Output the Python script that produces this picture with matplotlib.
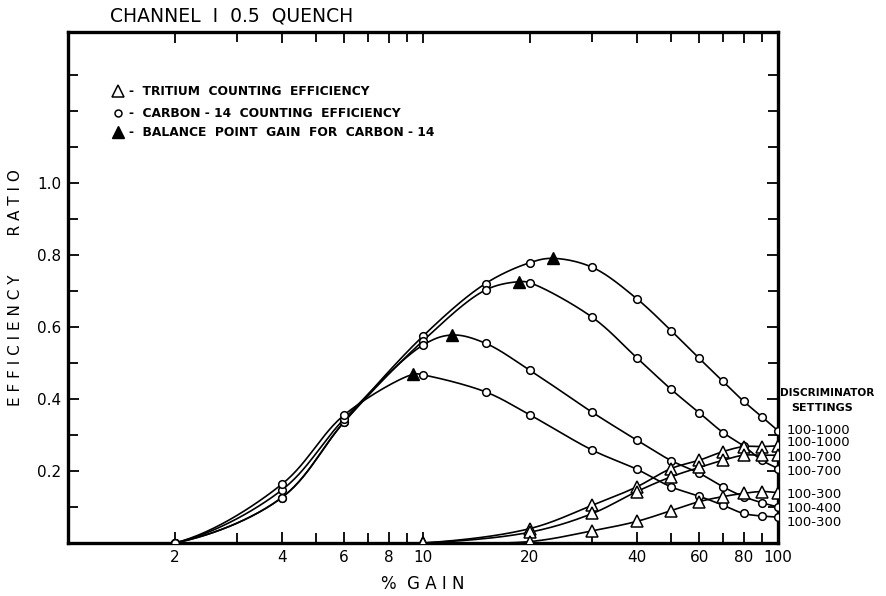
import numpy as np
import matplotlib
matplotlib.use("Agg")
import matplotlib.pyplot as plt
from matplotlib.ticker import FixedLocator, NullFormatter, FixedFormatter
import matplotlib.transforms as mtransforms

# carbon-14 counting efficiency, open circles
gain_c = [2, 4, 6, 10, 15, 20, 30, 40, 50, 60, 70, 80, 90, 100]
c14_1000 = [0, 0.126, 0.337, 0.575, 0.721, 0.779, 0.766, 0.679, 0.590, 0.513, 0.449, 0.394, 0.351, 0.312]
c14_700 = [0, 0.126, 0.337, 0.562, 0.703, 0.723, 0.627, 0.515, 0.427, 0.362, 0.307, 0.270, 0.230, 0.207]
c14_400 = [0, 0.147, 0.345, 0.550, 0.555, 0.480, 0.363, 0.286, 0.229, 0.194, 0.156, 0.129, 0.112, 0.100]
c14_300 = [0, 0.163, 0.356, 0.467, 0.420, 0.356, 0.258, 0.205, 0.156, 0.130, 0.105, 0.082, 0.075, 0.072]

# balance point gain for carbon-14 (filled triangles), one per curve above
bal_gain = [23.2, 18.6, 12.1, 9.4]
bal_eff = [0.791, 0.726, 0.578, 0.469]

# tritium counting efficiency, open triangles
gain_t = [10, 20, 30, 40, 50, 60, 70, 80, 90, 100]
h3_1000 = [0, 0.040, 0.105, 0.156, 0.207, 0.230, 0.254, 0.268, 0.268, 0.270]
h3_700 = [0, 0.030, 0.082, 0.143, 0.184, 0.210, 0.230, 0.244, 0.244, 0.244]
h3_300 = [0, 0.004, 0.034, 0.060, 0.090, 0.115, 0.129, 0.138, 0.143, 0.140]

settings = ["100-1000", "100-1000", "100-700", "100-700", "100-300", "100-400", "100-300"]
setting_y = [0.314, 0.278, 0.238, 0.200, 0.136, 0.097, 0.058]

xticks = [2, 4, 6, 8, 10, 20, 40, 60, 80, 100]
yticks = [0.2, 0.4, 0.6, 0.8, 1.0]


# smooth hand-drawn looking curve through the points (centripetal catmull-rom, log x)
def smooth(xs, ys, n=30):
    P = np.column_stack([np.log10(xs), ys]).astype(float)
    first = P[0] - (P[1] - P[0])
    first[1] = P[0][1]  # start flat along the axis
    P = np.vstack([first, P, 2 * P[-1] - P[-2]])
    out = []
    for i in range(1, len(P) - 2):
        p0, p1, p2, p3 = P[i - 1], P[i], P[i + 1], P[i + 2]
        t0 = 0.0
        t1 = t0 + np.linalg.norm(p1 - p0) ** 0.5 + 1e-9
        t2 = t1 + np.linalg.norm(p2 - p1) ** 0.5 + 1e-9
        t3 = t2 + np.linalg.norm(p3 - p2) ** 0.5 + 1e-9
        t = np.linspace(t1, t2, n)[:, None]
        a1 = (t1 - t) / (t1 - t0) * p0 + (t - t0) / (t1 - t0) * p1
        a2 = (t2 - t) / (t2 - t1) * p1 + (t - t1) / (t2 - t1) * p2
        a3 = (t3 - t) / (t3 - t2) * p2 + (t - t2) / (t3 - t2) * p3
        b1 = (t2 - t) / (t2 - t0) * a1 + (t - t0) / (t2 - t0) * a2
        b2 = (t3 - t) / (t3 - t1) * a2 + (t - t1) / (t3 - t1) * a3
        c = (t2 - t) / (t2 - t1) * b1 + (t - t1) / (t2 - t1) * b2
        out.append(c)
    out = np.vstack(out)
    return 10 ** out[:, 0], np.clip(out[:, 1], 0, None)


def with_point(xs, ys, bx, by):
    pts = sorted(zip(list(xs) + [bx], list(ys) + [by]))
    return [p[0] for p in pts], [p[1] for p in pts]


plt.rcParams['font.family'] = ['DejaVu Sans']
fig = plt.figure(figsize=(8.87, 5.96), dpi=100)
ax = fig.add_axes([68 / 887, 53 / 596, 710 / 887, 511 / 596])

lw = 1.2
circ = dict(marker='o', ms=5.5, mfc='white', mec='black', mew=1.1, ls='none', zorder=4)
tri = dict(marker='^', ms=8, mfc='white', mec='black', mew=1.1, ls='none', zorder=4)

c14 = [c14_1000, c14_700, c14_400, c14_300]
for k, ys in enumerate(c14):
    sx, sy = with_point(gain_c, ys, bal_gain[k], bal_eff[k])
    cx, cy = smooth(sx, sy)
    ax.plot(cx, cy, color='black', lw=lw, zorder=3)
    ax.plot(gain_c, ys, **circ)

for ys in [h3_1000, h3_700, h3_300]:
    cx, cy = smooth(gain_t, ys)
    ax.plot(cx, cy, color='black', lw=lw, zorder=3)
    ax.plot(gain_t, ys, **tri)

ax.plot(bal_gain, bal_eff, marker='^', ms=9, color='black', ls='none', zorder=5)

ax.set_xscale('log')
ax.set_xlim(1, 100)
ax.set_ylim(0, 1.42)

ax.xaxis.set_major_locator(FixedLocator(xticks))
ax.xaxis.set_major_formatter(FixedFormatter([str(v) for v in xticks]))
ax.xaxis.set_minor_locator(FixedLocator([3, 5, 7, 9, 30, 50, 70, 90]))
ax.xaxis.set_minor_formatter(NullFormatter())
ax.yaxis.set_major_locator(FixedLocator(yticks))
ax.yaxis.set_major_formatter(FixedFormatter(["0.2", "0.4", "0.6", "0.8", "1.0"]))
ax.yaxis.set_minor_locator(FixedLocator([0.1, 0.3, 0.5, 0.7, 0.9, 1.1, 1.2, 1.3]))

ax.tick_params(which='both', direction='in', top=True, right=True, width=1.3,
               labelsize=11, pad=5)
ax.tick_params(which='major', length=8)
ax.tick_params(which='minor', length=7)
for s in ax.spines.values():
    s.set_linewidth(2.4)

ax.set_xlabel("%  G A I N", fontsize=12, labelpad=7)
ax.set_ylabel("E F F I C I E N C Y        R A T I O", fontsize=11, labelpad=10)
fig.text(110 / 887, 1 - 16 / 596, "CHANNEL  I  0.5  QUENCH", fontsize=13.5,
         va='center', ha='left')

# legend drawn as text inside the axes
lx, ly = 0.070, [0.884, 0.841, 0.804]
ax.plot([lx], [ly[0]], transform=ax.transAxes, marker='^', ms=8, mfc='white',
        mec='black', mew=1.1, clip_on=False)
ax.plot([lx], [ly[1]], transform=ax.transAxes, marker='o', ms=5, mfc='white',
        mec='black', mew=1.1, clip_on=False)
ax.plot([lx], [ly[2]], transform=ax.transAxes, marker='^', ms=8, color='black',
        clip_on=False)
legend_txt = ["-  TRITIUM  COUNTING  EFFICIENCY",
              "-  CARBON - 14  COUNTING  EFFICIENCY",
              "-  BALANCE  POINT  GAIN  FOR  CARBON - 14"]
for yy, t in zip(ly, legend_txt):
    ax.text(lx + 0.016, yy, t, transform=ax.transAxes, fontsize=8.8, fontweight='bold',
            va='center', ha='left')

trans = mtransforms.blended_transform_factory(ax.transAxes, ax.transData)
ax.text(1.003, 0.418, "DISCRIMINATOR", transform=trans, fontsize=7.6, fontweight='bold',
        va='center', ha='left')
ax.text(1.018, 0.374, "SETTINGS", transform=trans, fontsize=8, fontweight='bold',
        va='center', ha='left')
for yy, t in zip(setting_y, settings):
    ax.text(1.0127, yy, t, transform=trans, fontsize=9.5, va='center', ha='left')

fig.savefig("out.png", dpi=100)
